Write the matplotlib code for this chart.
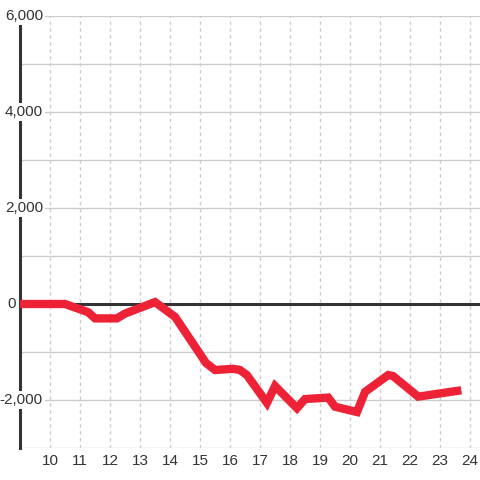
import matplotlib
matplotlib.use('Agg')
import matplotlib.pyplot as plt
from matplotlib.transforms import blended_transform_factory, offset_copy

plt.rcParams['font.family'] = ['Liberation Sans', 'DejaVu Sans']

x = [9.0, 10.5, 11.27, 11.5, 12.23, 12.5, 13.0, 13.5, 14.17, 15.2, 15.5, 16.1, 16.33,
     16.56, 17.23, 17.5, 18.23, 18.5, 19.27, 19.5, 20.23, 20.5, 21.27, 21.43, 22.27, 23.57]
y = [0, 0, -170, -300, -300, -200, -80, 40, -270, -1230, -1375, -1350, -1375,
     -1480, -2060, -1710, -2170, -1980, -1950, -2140, -2250, -1830, -1480, -1500, -1930, -1810]

xticks = list(range(10, 25))
yticks = [6000, 4000, 2000, 0, -2000]
ylabels = ['6,000', '4,000', '2,000', '0', '-2,000']

fig = plt.figure(figsize=(4.8, 4.8), dpi=100)
ax = fig.add_axes([20/480, 32/480, 460/480, 432/480])
ax.set_xlim(9, 24.33)
ax.set_ylim(-3000, 6000)

for v in range(-3000, 7000, 1000):
    if v != 0:
        ax.axhline(v, color='#cccccc', lw=1, zorder=1)
for v in xticks:
    ax.axvline(v, color='#cccccc', lw=1, ls=(0, (2.5, 2.5)), zorder=1)
ax.axhline(0, color='#333333', lw=2.2, zorder=1.5)

ax.plot(x, y, color='#ee2237', lw=6, solid_joinstyle='miter', zorder=3)

for s in ['top', 'right', 'bottom']:
    ax.spines[s].set_visible(False)
ax.spines['left'].set_color('#333333')
ax.spines['left'].set_linewidth(2.2)

ax.set_xticks([])
ax.set_yticks([])

for v, l in zip(yticks, ylabels):
    # the zero label sits left of the axis so it doesn't cover the line
    off = -4 if v == 0 else 23
    tr = offset_copy(blended_transform_factory(ax.transAxes, ax.transData),
                     fig=fig, x=off, y=0, units='dots')
    ax.text(0, v, l, transform=tr, ha='right', va='center', fontsize=11,
            color='#333333', zorder=5, clip_on=False,
            bbox=dict(facecolor='white', edgecolor='none', pad=1.5))

trx = blended_transform_factory(ax.transData, ax.transAxes)
trx = offset_copy(trx, fig=fig, x=0, y=-13, units='dots')
for v in xticks:
    ax.text(v, 0, str(v), transform=trx, ha='center', va='center', fontsize=11,
            color='#333333', clip_on=False)

fig.savefig('out.png', dpi=100, facecolor='white')
